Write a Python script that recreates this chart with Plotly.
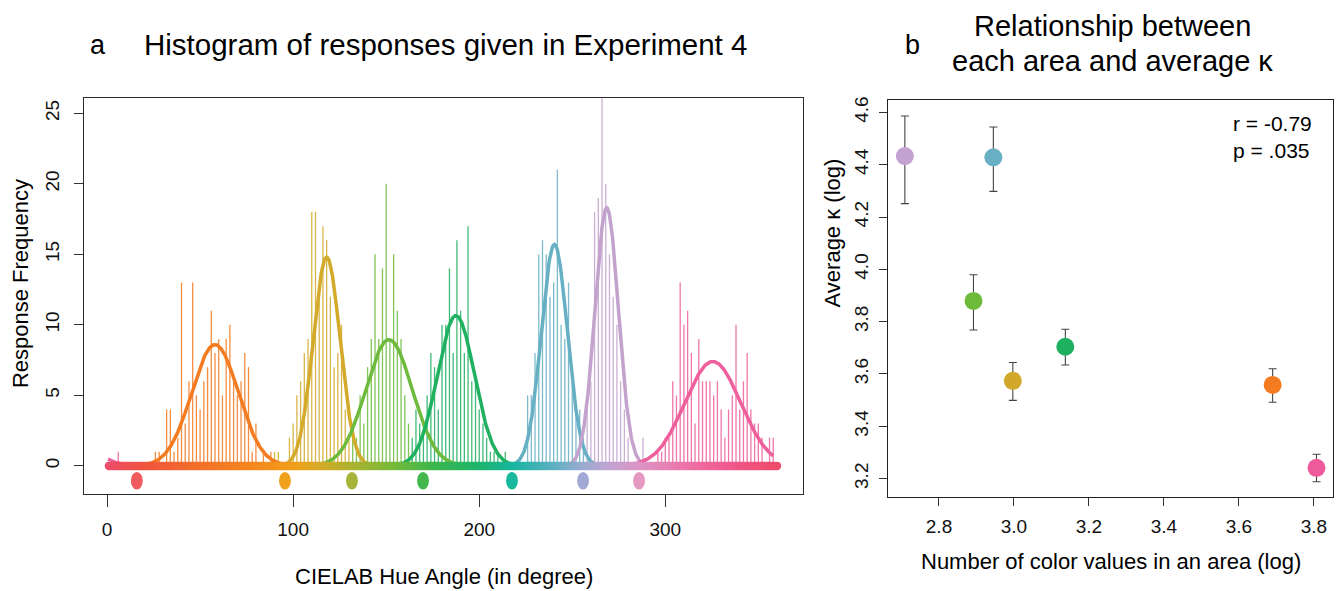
import numpy as np
import plotly.graph_objects as go
from plotly.colors import sample_colorscale

# ---------------- data: panel a (histogram, 2-degree bins) ----------------
orange_start = 26
orange_counts = [1, 1, 0, 4, 4, 1, 2, 13, 3, 6, 13, 5, 4, 6, 7, 11, 8, 9, 5, 9, 10, 6, 5, 6, 8, 7, 1, 3, 0, 1, 0, 1]
gold_start = 90
gold_counts = [1, 1, 0, 0, 2, 3, 5, 6, 8, 9, 18, 18, 12, 17, 16, 12, 7, 8, 10, 4, 2]
lgreen_start = 132
lgreen_counts = [2, 2, 5, 3, 7, 9, 15, 9, 14, 20, 9, 15, 11, 9, 5, 3]
green_start = 164
green_counts = [2, 4, 3, 3, 5, 8, 7, 4, 10, 10, 14, 8, 16, 11, 8, 17, 6, 6, 4, 3, 2, 1, 1, 1, 0, 1]
blue_start = 226
blue_counts = [5, 5, 8, 15, 16, 15, 12, 13, 21, 10, 9, 13, 6, 4, 4, 2]
purple_start = 258
purple_counts = [4, 6, 18, 19, 30, 20, 15, 12, 10, 6, 4, 2, 0, 0, 0, 2]
pink_start = 296
pink_counts = [1, 1, 2, 2, 6, 5, 13, 10, 11, 8, 3, 9, 6, 6, 6, 5, 6, 4, 2, 4, 5, 10, 4, 6, 8, 4, 3, 3, 2, 0, 2, 2]
pink_extra_deg = [6]
pink_extra_counts = [1]

# fitted curves: (peak height, mean hue, sd)
curve_names = ["orange", "gold", "lgreen", "green", "blue", "purple", "pink"]
curve_height = [8.6, 14.8, 8.95, 10.65, 15.7, 18.3, 7.4]
curve_mean = [58.0, 118.0, 151.5, 187.5, 240.4, 268.5, 325.5]
curve_sd = [12.5, 7.2, 12.5, 10.0, 7.0, 6.3, 15.0]

# focal colours shown below the axis
focal_hue = [16, 95.6, 131.6, 169.8, 217.6, 255.8, 285.9]
focal_colors = ["#EE5A5E", "#F0A21E", "#A6B43A", "#44B84C", "#18B89C", "#A2A8D4", "#E598C2"]

x_ticks_a = [0, 100, 200, 300]
y_ticks_a = [0, 5, 10, 15, 20, 25]

# ---------------- data: panel b ----------------
b_x = [2.709, 2.945, 2.892, 2.997, 3.137, 3.690, 3.807]
b_y = [4.433, 4.428, 3.879, 3.574, 3.704, 3.558, 3.241]
b_hi = [4.586, 4.544, 3.979, 3.644, 3.771, 3.620, 3.293]
b_lo = [4.251, 4.298, 3.768, 3.499, 3.634, 3.492, 3.188]
b_colors = ["#C3A1D0", "#6AB0C4", "#6EBB3C", "#D2A82A", "#1DB060", "#F47B20", "#EE5A9A"]
x_ticks_b = ["2.8", "3.0", "3.2", "3.4", "3.6", "3.8"]
y_ticks_b = ["3.2", "3.4", "3.6", "3.8", "4.0", "4.2", "4.4", "4.6"]

cat_colors = {
    "orange": "#F47B20", "gold": "#D3AA2A", "lgreen": "#6DBA3C", "green": "#1FB060",
    "blue": "#67B0C4", "purple": "#C3A2CE", "pink": "#EF5F9B",
}

FONT = "Liberation Sans, Arial, sans-serif"

fig = go.Figure()

# histogram bars as thin vertical lines
def add_bars(start, counts, color, extra_x=None, extra_y=None):
    xs = [start + 2 * i for i in range(len(counts))]
    ys = list(counts)
    if extra_x:
        xs += extra_x
        ys += extra_y
    lx, ly = [], []
    for x, y in zip(xs, ys):
        if y > 0:
            lx += [x, x, None]
            ly += [0, y, None]
    fig.add_trace(go.Scatter(x=lx, y=ly, mode="lines", line=dict(color=color, width=1.3),
                             opacity=0.85, hoverinfo="skip", showlegend=False,
                             xaxis="x", yaxis="y"))

add_bars(orange_start, orange_counts, cat_colors["orange"])
add_bars(gold_start, gold_counts, cat_colors["gold"])
add_bars(lgreen_start, lgreen_counts, cat_colors["lgreen"])
add_bars(green_start, green_counts, cat_colors["green"])
add_bars(blue_start, blue_counts, cat_colors["blue"])
add_bars(purple_start, purple_counts, cat_colors["purple"])
add_bars(pink_start, pink_counts, cat_colors["pink"], pink_extra_deg, pink_extra_counts)

# fitted curves (wrapped on the hue circle)
xx = np.linspace(0.5, 358, 1200)
for name, h, m, s in zip(curve_names, curve_height, curve_mean, curve_sd):
    d = np.abs(xx - m)
    d = np.minimum(d, 360 - d)
    yy = h * np.exp(-0.5 * (d / s) ** 2)
    fig.add_trace(go.Scatter(x=xx, y=yy, mode="lines", line=dict(color=cat_colors[name], width=3.5),
                             hoverinfo="skip", showlegend=False, xaxis="x", yaxis="y"))

# hue ribbon of dots at y = 0
ribbon_scale = [
    [0.0, "#EE4C6C"], [0.06, "#F0543F"], [0.14, "#F3702A"], [0.22, "#F5861E"],
    [0.28, "#F29E1C"], [0.32, "#D8AA26"], [0.37, "#ABB22E"], [0.43, "#78BA3A"],
    [0.49, "#3EB64C"], [0.56, "#1DB46E"], [0.61, "#18B5A0"], [0.67, "#5CB0C2"],
    [0.71, "#97ACD0"], [0.75, "#BEA4D2"], [0.80, "#DC94C4"], [0.87, "#EE72A8"],
    [0.94, "#F0568A"], [1.0, "#EE4C6C"],
]
dot_x = np.arange(1, 361)
dot_cols = sample_colorscale(ribbon_scale, list(dot_x / 360.0))
fig.add_trace(go.Scatter(x=dot_x, y=np.zeros_like(dot_x), mode="markers",
                         marker=dict(size=8.5, color=dot_cols, line=dict(width=0)),
                         hoverinfo="skip", showlegend=False, xaxis="x", yaxis="y"))

# focal colour ellipses
for h, c in zip(focal_hue, focal_colors):
    fig.add_shape(type="circle", xref="x", yref="y", x0=h - 3.2, x1=h + 3.2, y0=-1.05 - 0.62,
                  y1=-1.05 + 0.62, fillcolor=c, line=dict(width=0))

# ---------------- panel b ----------------
for x, y, hi, lo, c in zip(b_x, b_y, b_hi, b_lo, b_colors):
    fig.add_trace(go.Scatter(x=[x], y=[y], mode="markers",
                             marker=dict(size=18, color=c, line=dict(width=0)),
                             error_y=dict(type="data", symmetric=False, array=[hi - y], arrayminus=[y - lo],
                                          color="#444444", thickness=1.1, width=4),
                             hoverinfo="skip", showlegend=False, xaxis="x2", yaxis="y2"))

def axis_common(line_color, ticklen):
    return dict(showgrid=False, zeroline=False, ticks="outside", ticklen=ticklen, tickwidth=1,
                tickcolor="#333333", showline=True, linecolor=line_color, linewidth=1.3, mirror=True,
                tickfont=dict(family=FONT, size=19, color="#111111"))

fig.update_layout(
    width=1338, height=591, margin=dict(l=0, r=0, t=0, b=0),
    paper_bgcolor="white", plot_bgcolor="white", showlegend=False,
    xaxis=dict(domain=[84 / 1338, 803 / 1338], range=[-12.4, 374], tickvals=x_ticks_a,
               anchor="y", ticklabelstandoff=6, **axis_common("#2A2A2A", 12)),
    yaxis=dict(domain=[1 - 493 / 591, 1 - 95 / 591], range=[-1.97, 26.06], tickvals=y_ticks_a,
               tickangle=-90, anchor="x", ticklabelstandoff=7, **axis_common("#2A2A2A", 9)),
    xaxis2=dict(domain=[888 / 1338, 1333 / 1338], range=[2.664, 3.851],
                tickvals=[float(t) for t in x_ticks_b], ticktext=x_ticks_b,
                anchor="y2", ticklabelstandoff=4, **axis_common("#222222", 8)),
    yaxis2=dict(domain=[1 - 496 / 591, 1 - 97 / 591], range=[3.131, 4.646],
                tickvals=[float(t) for t in y_ticks_b], ticktext=y_ticks_b,
                tickangle=-90, anchor="x2", ticklabelstandoff=3, **axis_common("#222222", 8)),
)

def ann(text, x, y, size, angle=0, xanchor="center", align="center"):
    fig.add_annotation(text=text, x=x / 1338, y=1 - y / 591, xref="paper", yref="paper",
                       showarrow=False, textangle=angle, xanchor=xanchor, yanchor="middle", align=align,
                       font=dict(family=FONT, size=size, color="#000000"))

ann("a", 98, 41, 27)
ann("Histogram of responses given in Experiment 4", 445, 41, 29.5)
ann("b", 912, 41, 27)
ann("Relationship between", 1112, 22, 29)
ann("each area and average \u03ba", 1112, 57, 29)
ann("Response Frequency", 20, 282, 22, angle=-90)
ann("CIELAB Hue Angle (in degree)", 444, 576, 22)
ann("Average \u03ba (log)", 832, 230, 22, angle=-90)
ann("Number of color values in an area (log)", 1111, 561, 22)
ann("r = -0.79<br>p = .035", 1272, 134, 21, align="left")

fig.write_html("out.html")
